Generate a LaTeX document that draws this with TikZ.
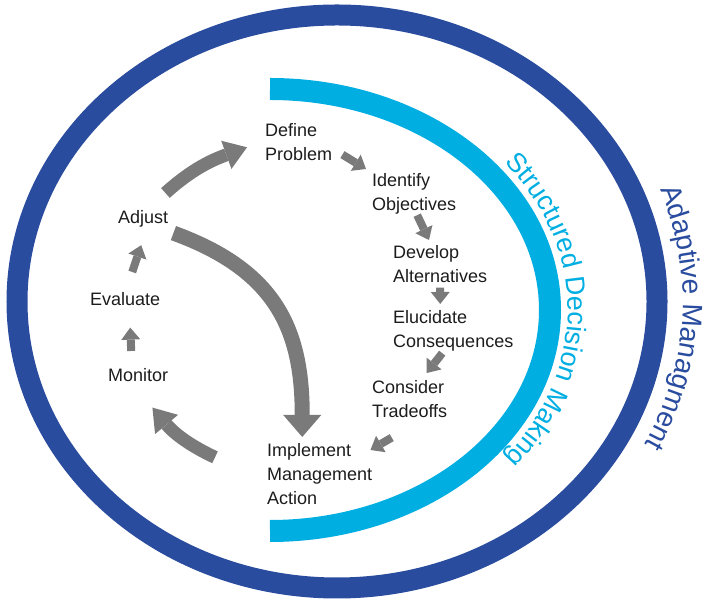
\documentclass[tikz,border=0pt]{standalone}
\usepackage{fontspec}
\setmainfont{Liberation Sans}
\usepackage{xcolor}
\usepackage{tikz}
\usetikzlibrary{arrows.meta, positioning, calc}
\usetikzlibrary{decorations.text}
\definecolor{amblue}{RGB}{42,76,158}
\definecolor{sdmblue}{RGB}{0,174,226}
\definecolor{arrowgray}{RGB}{122,122,122}
\definecolor{txtblack}{RGB}{28,28,28}
\newcommand{\ringfont}{\fontsize{28}{28}\selectfont}
\newcommand{\arcfont}{\fontsize{27}{27}\selectfont}

\begin{document}
\begin{tikzpicture}[x=1pt,y=1pt,
  stage/.style={anchor=north west,inner sep=0pt,align=left,text=txtblack,font=\fontsize{18}{24}\selectfont},
  smallarr/.style={arrowgray,line width=8pt,-{Triangle[length=12pt,width=19pt,line width=0pt]}},
  bigarr/.style={arrowgray,line width=13pt,-{Triangle[length=22pt,width=30pt,line width=0pt]}}]
\useasboundingbox (0,0) rectangle (706,601);
% Adaptive management ring
\draw[amblue,line width=21pt] (337,299.5) ellipse [x radius=320,y radius=286.5];
\path[decorate,decoration={text along path,text align=center,text color=amblue,
  text={|\ringfont|Adaptive Managment}}]
  (337,299.5) ++(40:346 and 312.5) arc[start angle=40,end angle=-46,x radius=346,y radius=312.5];
% Structured decision making arc
\draw[sdmblue,line width=22pt] (270,512) arc[start angle=90,end angle=-90,x radius=280,y radius=221];
\path[decorate,decoration={text along path,text align=center,text color=sdmblue,
  text={|\arcfont|Structured Decision Making}}]
  (270,291) ++(55:298 and 239) arc[start angle=55,end angle=-55,x radius=298,y radius=239];
% Steps
\node[stage] (define) at (265,478) {Define\\Problem};
\node[stage] (identify) at (372,428) {Identify\\Objectives};
\node[stage] (develop) at (393,356) {Develop\\Alternatives};
\node[stage] (elucidate) at (393,291) {Elucidate\\Consequences};
\node[stage] (consider) at (372,221) {Consider\\Tradeoffs};
\node[stage] (implement) at (267,158) {Implement\\Management\\Action};
\node[stage] (monitor) at (108,233) {Monitor};
\node[stage] (evaluate) at (90,309) {Evaluate};
\node[stage] (adjust) at (118,391) {Adjust};
% Small arrows
\draw[smallarr] ([shift={(10,6)}]define.south east) -- ([shift={(-6,4)}]identify.north west);
\draw[smallarr] ([shift={(3,-1)}]identify.south) -- ([shift={(36,5)}]develop.north west);
\draw[smallarr] ([shift={(0,-5)}]develop.south) -- ([shift={(-13,6)}]elucidate.north);
\draw[smallarr] ([shift={(-11,-2)}]elucidate.south) -- ([shift={(17,7)}]consider.north);
\draw[smallarr] ([shift={(-18,-20)}]consider.south) -- ([shift={(-2,-7)}]implement.north east);
\draw[smallarr] ([shift={(-7,17)}]monitor.north) -- ([shift={(5,-22)}]evaluate.south);
\draw[smallarr] ([shift={(7,20)}]evaluate.north) -- ([shift={(-2,-18)}]adjust.south);
% Big curved arrows
\draw[bigarr] ([shift={(-3,17)}]adjust.north east) to[out=42,in=200] ([shift={(-18,-5.5)}]define.west);
\draw[bigarr,line width=15pt,-{Triangle[length=22pt,width=38pt,line width=0pt]}]
  ([shift={(5,-14.5)}]adjust.east) to[out=-20,in=90,looseness=1.15] ([shift={(-17.5,6)}]implement.north);
\draw[bigarr] ([shift={(-52,16.5)}]implement.west) to[out=155,in=-50] ([shift={(-16,-26)}]monitor.south east);
\end{tikzpicture}
\end{document}
